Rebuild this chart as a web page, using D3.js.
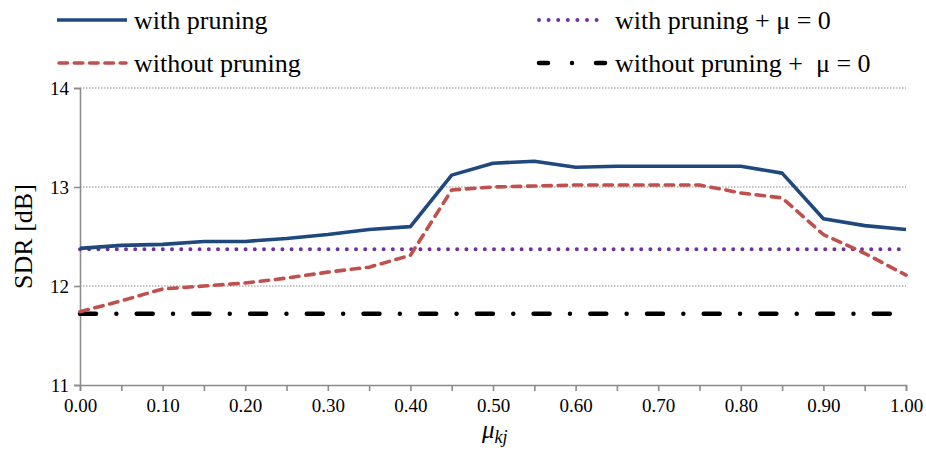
<!DOCTYPE html>
<html>
<head>
<meta charset="utf-8">
<script src="https://cdn.jsdelivr.net/npm/d3@7"></script>
<style>
  html, body { margin: 0; padding: 0; background: #fff; }
  svg { display: block; }
  svg text { font-family: "Liberation Serif", "Times New Roman", Tinos, "DejaVu Serif", serif; }
</style>
</head>
<body>
<svg id="chart" width="926" height="450"></svg>
<script>
// mu_kj sweep values
const muValues = [0.00, 0.05, 0.10, 0.15, 0.20, 0.25, 0.30, 0.35, 0.40, 0.45, 0.50,
                  0.55, 0.60, 0.65, 0.70, 0.75, 0.80, 0.85, 0.90, 0.95, 1.00];
// SDR [dB] per mu_kj
const withPruning = [12.38, 12.41, 12.42, 12.45, 12.45, 12.48, 12.52, 12.57, 12.60, 13.12, 13.24,
                     13.26, 13.20, 13.21, 13.21, 13.21, 13.21, 13.14, 12.68, 12.61, 12.57];
const withoutPruning = [11.74, 11.85, 11.97, 12.00, 12.03, 12.08, 12.14, 12.19, 12.31, 12.97, 13.00,
                        13.01, 13.02, 13.02, 13.02, 13.02, 12.94, 12.89, 12.52, 12.33, 12.11];
// baselines at mu = 0
const withPruningMu0 = 12.37;
const withoutPruningMu0 = 11.72;

const yTicks = [11, 12, 13, 14];
const xTickLabels = ["0.00", "0.10", "0.20", "0.30", "0.40", "0.50", "0.60", "0.70", "0.80", "0.90", "1.00"];

const serif = '"Liberation Serif", "Times New Roman", Tinos, "DejaVu Serif", serif';

const svg = d3.select("#chart");
const x = d3.scaleLinear().domain([0, 1]).range([80, 906]);
const y = d3.scaleLinear().domain([11, 14]).range([385, 88]);

const axisColor = "#8c8c8c";

// horizontal dotted gridlines
svg.append("g").selectAll("line")
  .data(yTicks.filter(d => d > 11))
  .join("line")
  .attr("x1", x(0)).attr("x2", x(1))
  .attr("y1", d => y(d)).attr("y2", d => y(d))
  .attr("stroke", "#8a8a8a").attr("stroke-width", 1)
  .attr("stroke-dasharray", "1.5,1.5");

// y axis
const yAxis = svg.append("g").attr("transform", `translate(${x(0)},0)`)
  .call(d3.axisLeft(y).tickValues(yTicks).tickFormat(d3.format("d")).tickSize(6).tickPadding(5));
yAxis.attr("font-family", null);
yAxis.select(".domain").attr("stroke", axisColor).attr("stroke-width", 1.6);
yAxis.selectAll(".tick line").attr("stroke", axisColor).attr("stroke-width", 1.6);
yAxis.selectAll(".tick text").attr("font-size", 19).attr("fill", "#000")
  .style("font-family", serif);

// x axis
const xAxis = svg.append("g").attr("transform", `translate(0,${y(11)})`)
  .call(d3.axisBottom(x).tickValues(muValues).tickSize(6).tickPadding(8)
    .tickFormat(d => {
      const s = d.toFixed(2);
      return xTickLabels.includes(s) ? s : "";
    }));
xAxis.attr("font-family", null);
xAxis.select(".domain").attr("stroke", axisColor).attr("stroke-width", 1.6);
xAxis.selectAll(".tick line").attr("stroke", axisColor).attr("stroke-width", 1.6);
xAxis.selectAll(".tick text").attr("font-size", 19).attr("fill", "#000")
  .style("font-family", serif);

// axis titles
svg.append("text")
  .attr("transform", `translate(32,${(y(11) + y(14)) / 2}) rotate(-90)`)
  .attr("text-anchor", "middle")
  .attr("font-size", 26)
  .style("font-family", serif)
  .text("SDR [dB]");

const xt = svg.append("text")
  .attr("x", 482).attr("y", 438)
  .attr("font-size", 25)
  .attr("font-style", "italic")
  .style("font-family", serif);
xt.append("tspan").text("μ");
xt.append("tspan").attr("font-size", 18).attr("dy", 5).text("kj");

const line = d3.line().x((d, i) => x(muValues[i])).y(d => y(d));

// series styles
const styles = {
  withMu0: { stroke: "#7030a0", width: 4, dash: "0,9.2", cap: "round" },
  withoutMu0: { stroke: "#000", width: 4.5, dash: "16,20.35,0,20.35", cap: "round" },
  without: { stroke: "#c0504d", width: 3.6, dash: "8.5,6.8", cap: "round" },
  with: { stroke: "#1f497d", width: 3.6, dash: null, cap: "butt" }
};

function drawSeries(values, st) {
  svg.append("path")
    .datum(values)
    .attr("d", line)
    .attr("fill", "none")
    .attr("stroke", st.stroke)
    .attr("stroke-width", st.width)
    .attr("stroke-linecap", st.cap)
    .attr("stroke-linejoin", "round")
    .attr("stroke-dasharray", st.dash);
}

drawSeries(muValues.map(() => withoutPruningMu0), styles.withoutMu0);
drawSeries(muValues.map(() => withPruningMu0), styles.withMu0);
drawSeries(withoutPruning, styles.without);
drawSeries(withPruning, styles.with);

// legend
const legendItems = [
  { label: "with pruning", st: styles.with, x1: 57, x2: 127, ly: 20, tx: 134, ty: 29 },
  { label: "without pruning", st: styles.without, x1: 59, x2: 126, ly: 63, tx: 134, ty: 72 },
  { label: "with pruning + μ = 0", st: { ...styles.withMu0, dash: "0,9.6" }, x1: 539, x2: 606, ly: 20, tx: 615, ty: 29 },
  { label: "without pruning +  μ = 0", st: { ...styles.withoutMu0, dash: "9,24,0,24" }, x1: 539, x2: 606, ly: 63, tx: 615, ty: 72 }
];
const lg = svg.append("g").selectAll("g").data(legendItems).join("g");
lg.append("line")
  .attr("x1", d => d.x1).attr("x2", d => d.x2)
  .attr("y1", d => d.ly).attr("y2", d => d.ly)
  .attr("stroke", d => d.st.stroke)
  .attr("stroke-width", d => d.st.width)
  .attr("stroke-linecap", d => d.st.cap)
  .attr("stroke-dasharray", d => d.st.dash);
lg.append("text")
  .attr("x", d => d.tx).attr("y", d => d.ty)
  .attr("font-size", 26)
  .style("font-family", serif)
  .style("white-space", "pre")
  .text(d => d.label);
</script>
</body>
</html>
